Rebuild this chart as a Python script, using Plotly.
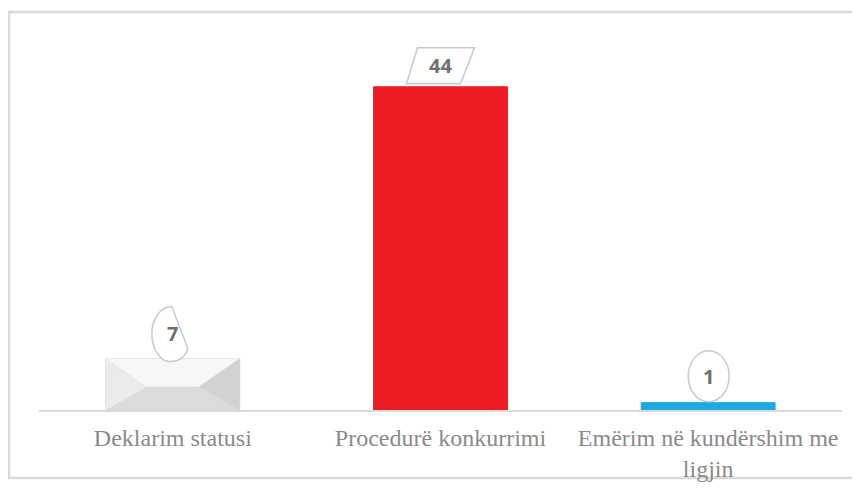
import plotly.graph_objects as go

# data
categories = ["Deklarim statusi", "Procedurë konkurrimi", "Emërim në kundërshim me ligjin"]
tick_labels = ["Deklarim statusi", "Procedurë konkurrimi", "Emërim në kundërshim me<br>ligjin"]
values = [7, 44, 1]
bar_colors = ["#dbdbdb", "#ed1c24", "#1ba9e1"]

W, H = 860, 489
ml, mr, mt, mb = 31, 26, 20, 87
ymax = 52
bar_w = 0.5

pw = W - ml - mr
ph = H - mt - mb

fig = go.Figure()
fig.add_trace(go.Bar(
    x=categories, y=values,
    width=bar_w,
    marker=dict(color=bar_colors,
                line=dict(color=["#d6d6d6", "#ed1c24", "#1ba9e1"], width=1)),
    hoverinfo="x+y",
))

shapes = []

# bevel look on the first bar
hw = bar_w * pw / len(categories) / 2
bh = values[0] * ph / ymax
ix = hw * 0.39
iy = bh * 0.55
bevel = [
    ("M %f,0 L %f,0 L %f,%f L %f,%f Z" % (-hw, hw, ix, -iy, -ix, -iy), "#f7f7f7"),
    ("M %f,0 L %f,%f L %f,%f Z" % (-hw, -ix, -iy, -hw, -bh), "#ebebeb"),
    ("M %f,0 L %f,%f L %f,%f Z" % (hw, ix, -iy, hw, -bh), "#d2d2d2"),
]
for p, c in bevel:
    shapes.append(dict(type="path", path=p, xref="x", yref="y",
                       xsizemode="pixel", ysizemode="pixel",
                       xanchor=categories[0], yanchor=values[0],
                       fillcolor=c, line=dict(width=0), layer="above"))

# callout outlines for the value labels (pixel offsets from bar top)
callout_paths = [
    "M -1,52 L 15,10 C 12,0 5,-3 -3,-3 C -14,-3 -21,12 -21,25 C -21,40 -12,52 -1,52 Z",
    "M -34,3 L 20,3 L 34,39 L -23,39 Z",
    None,
]
label_shift = [25, 21, 26]
for cat, v, p in zip(categories, values, callout_paths):
    common = dict(xref="x", yref="y", xsizemode="pixel", ysizemode="pixel",
                  xanchor=cat, yanchor=v, fillcolor="white",
                  line=dict(color="#c9c9c9", width=1.5), layer="above")
    if p:
        shapes.append(dict(type="path", path=p, **common))
    else:
        shapes.append(dict(type="circle", x0=-20, x1=21, y0=1, y1=52, **common))

# outer chart border
shapes.append(dict(type="rect", xref="paper", yref="paper",
                   x0=(1 - ml) / pw, x1=(W + 10 - ml) / pw,
                   y0=(H - mb - 470) / ph, y1=(H - mb - 4) / ph,
                   line=dict(color="#dadada", width=2.5), layer="below"))

annotations = []
for cat, v, s in zip(categories, values, label_shift):
    annotations.append(dict(x=cat, y=v, text="<b>%d</b>" % v, showarrow=False,
                            yshift=s, font=dict(family="Open Sans", size=20, color="#6f6f6f")))

fig.update_layout(
    width=W, height=H,
    margin=dict(l=ml, r=mr, t=mt, b=mb),
    paper_bgcolor="white", plot_bgcolor="white",
    showlegend=False,
    shapes=shapes,
    annotations=annotations,
    xaxis=dict(tickmode="array", tickvals=categories, ticktext=tick_labels,
               showline=True, linecolor="#d9d9d9", linewidth=2,
               showgrid=False, ticks="", ticklen=0, ticklabelstandoff=5,
               tickfont=dict(family="Liberation Serif", size=24, color="#8a8a8a")),
    yaxis=dict(range=[0, ymax], visible=False, showgrid=False, zeroline=False),
)

fig.write_html("out.html")
